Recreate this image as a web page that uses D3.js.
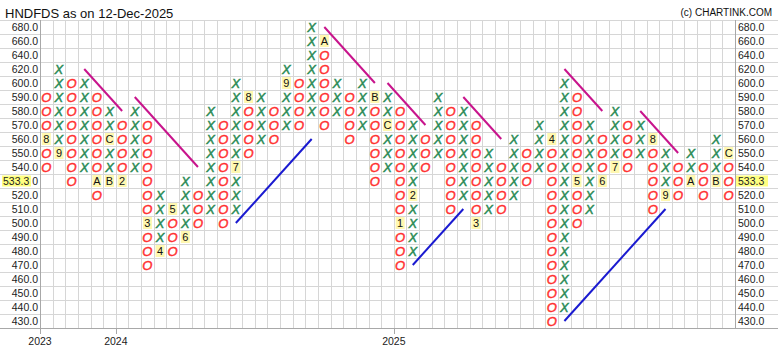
<!DOCTYPE html>
<html><head><meta charset="utf-8">
<script src="https://cdn.jsdelivr.net/npm/d3@7"></script>
<style>
body{margin:0;background:#fff;}
svg{display:block;font-family:"Liberation Sans",Arial,sans-serif;}
</style>
</head><body>
<svg id="chart" width="778" height="358"></svg>
<script>
// ---- data ----
const title = "HNDFDS as on 12-Dec-2025";
const credit = "(c) CHARTINK.COM";
const priceLevels = [680,660,640,620,600,590,580,570,560,550,540,530,520,510,500,490,480,470,460,450,440,430];
const columnTypes = ["O","X","O","X","O","X","O","X","O","X","O","X","O","X","O","X","O","X","O","X","O","X","O","X","O","X","O","X","O","X","O","X","O","X","O","X","O","X","O","X","O","X","O","X","O","X","O","X","O","X","O","X","O","X","O"];
const columnHighs = [590,620,600,600,590,580,570,580,570,520,510,530,520,580,570,600,590,590,580,620,600,680,660,600,590,600,590,590,580,570,560,590,580,580,570,550,540,560,550,570,560,600,590,570,560,580,570,570,560,550,540,550,540,560,550];
const columnLows  = [540,550,530,540,520,530,530,540,470,480,480,490,500,510,500,510,550,560,560,570,570,580,570,580,560,570,530,540,470,480,540,550,510,520,500,510,510,520,530,540,430,440,500,510,530,540,540,550,510,520,520,530,520,530,520];
// [column (1-based), price, month label]
const monthMarkers = [[1,560,"8"],[2,550,"9"],[5,530,"A"],[6,530,"B"],[6,560,"C"],[7,530,"2"],[9,500,"3"],[10,480,"4"],[11,510,"5"],[12,490,"6"],[16,540,"7"],[17,590,"8"],[20,600,"9"],[23,660,"A"],[27,590,"B"],[28,570,"C"],[29,500,"1"],[30,520,"2"],[35,500,"3"],[41,560,"4"],[43,530,"5"],[45,530,"6"],[46,540,"7"],[49,560,"8"],[50,520,"9"],[52,530,"A"],[54,530,"B"],[55,550,"C"]];
// [startColumn, startPrice, endColumn, endPrice]
const resistanceLines = [[4,620,7,580],[8,590,13,540],[23,680,27,600],[28,600,31,570],[34,590,37,560],[42,620,45,580],[48,580,51,550]];
const supportLines = [[16,500,22,560],[30,470,34,510],[42,430,50,510]];
const yearTicks = [[1,"2023"],[7,"2024"],[29,"2025"]];
const lastPrice = 533.3;
const lastPriceRow = 530;

// ---- drawing ----
const W = 778, H = 358;
const svg = d3.select("#chart");
const cols = d3.range(1, columnTypes.length + 1);
const x = d3.scaleBand().domain(cols).range([40, 735]).padding(0);
const y = d3.scaleBand().domain(priceLevels).range([20, 328]).padding(0);
const cx = c => x(c) + x.bandwidth() / 2;
const cy = p => y(p) + y.bandwidth() / 2;
const crisp = v => Math.round(v) + 0.5;

const gridColor = "#d6d6d6";
const hLines = priceLevels.map(p => y(p)).concat([y.range()[1]]);
svg.append("g").selectAll("line").data(hLines).join("line")
  .attr("x1", 0).attr("x2", W)
  .attr("y1", d => crisp(d)).attr("y2", d => crisp(d))
  .attr("stroke", gridColor).attr("stroke-width", 1);
const vLines = cols.map(c => x(c)).concat([x.range()[1]]);
svg.append("g").selectAll("line").data(vLines).join("line")
  .attr("x1", d => crisp(d)).attr("x2", d => crisp(d))
  .attr("y1", 20).attr("y2", 328)
  .attr("stroke", gridColor).attr("stroke-width", 1);

const axisColor = "#a8a8a8";
svg.append("line").attr("x1", crisp(40)).attr("x2", crisp(40)).attr("y1", 20).attr("y2", 329).attr("stroke", axisColor);
svg.append("line").attr("x1", crisp(735)).attr("x2", crisp(735)).attr("y1", 20).attr("y2", 329).attr("stroke", axisColor);
svg.append("line").attr("x1", 0).attr("x2", W).attr("y1", crisp(328)).attr("y2", crisp(328)).attr("stroke", axisColor);

const fmt = d3.format(".1f");
const labelFont = 10.5;
// left labels: the last-price row label is partly covered by the highlight, so only its last digit shows
svg.append("g").selectAll("text").data(priceLevels).join("text")
  .attr("x", 38).attr("y", d => cy(d)).attr("dy", "0.36em")
  .attr("text-anchor", "end").attr("font-size", labelFont).attr("fill", "#222")
  .text(d => d === lastPriceRow ? fmt(d).slice(-1) : fmt(d));
svg.append("g").selectAll("text").data(priceLevels.filter(p => p !== lastPriceRow)).join("text")
  .attr("x", 738).attr("y", d => cy(d)).attr("dy", "0.36em")
  .attr("text-anchor", "start").attr("font-size", labelFont).attr("fill", "#222")
  .text(d => fmt(d));

const lp = svg.append("g");
lp.append("rect").attr("x", 2).attr("y", cy(lastPriceRow) - 5.5).attr("width", 29).attr("height", 11).attr("fill", "#ffff80");
lp.append("text").attr("x", 3).attr("y", cy(lastPriceRow)).attr("dy", "0.36em").attr("font-size", labelFont).attr("fill", "#222").text(fmt(lastPrice));
lp.append("rect").attr("x", 736).attr("y", cy(lastPriceRow) - 5.5).attr("width", 32).attr("height", 11).attr("fill", "#ffff80");
lp.append("text").attr("x", 738).attr("y", cy(lastPriceRow)).attr("dy", "0.36em").attr("font-size", labelFont).attr("fill", "#222").text(fmt(lastPrice));

const yt = svg.append("g");
yt.selectAll("line").data(yearTicks).join("line")
  .attr("x1", d => crisp(x(d[0]))).attr("x2", d => crisp(x(d[0])))
  .attr("y1", 328).attr("y2", 334).attr("stroke", axisColor);
yt.selectAll("text").data(yearTicks).join("text")
  .attr("x", d => x(d[0])).attr("y", 345)
  .attr("text-anchor", "middle").attr("font-size", 10.5).attr("fill", "#222")
  .text(d => d[1]);

const markerKey = new Set(monthMarkers.map(m => m[0] + "_" + m[1]));
const boxes = [];
cols.forEach((c, i) => {
  priceLevels.filter(p => p <= columnHighs[i] && p >= columnLows[i]).forEach(p => {
    if (!markerKey.has(c + "_" + p)) boxes.push({c, p, t: columnTypes[i]});
  });
});
svg.append("g").selectAll("text").data(boxes).join("text")
  .attr("x", d => cx(d.c)).attr("y", d => cy(d.p)).attr("dy", "0.36em")
  .attr("text-anchor", "middle").attr("font-size", 13).attr("font-style", "italic")
  .attr("fill", d => d.t === "X" ? "#2a8a55" : "#ff3030")
  .attr("stroke", d => d.t === "X" ? "#2a8a55" : "#ff3030")
  .attr("stroke-width", 0.45)
  .text(d => d.t);

const mm = svg.append("g").selectAll("g").data(monthMarkers).join("g");
mm.append("rect")
  .attr("x", d => cx(d[0]) - 4.5).attr("y", d => cy(d[1]) - 6)
  .attr("width", 9).attr("height", 12).attr("fill", "#fff8b0");
mm.append("text")
  .attr("x", d => cx(d[0])).attr("y", d => cy(d[1])).attr("dy", "0.36em")
  .attr("text-anchor", "middle").attr("font-size", 11).attr("fill", "#111")
  .text(d => d[2]);

svg.append("g").selectAll("line").data(resistanceLines).join("line")
  .attr("x1", d => cx(d[0])).attr("y1", d => cy(d[1]))
  .attr("x2", d => cx(d[2])).attr("y2", d => cy(d[3]))
  .attr("stroke", "#c8148c").attr("stroke-width", 2);
svg.append("g").selectAll("line").data(supportLines).join("line")
  .attr("x1", d => cx(d[0])).attr("y1", d => cy(d[1]))
  .attr("x2", d => cx(d[2])).attr("y2", d => cy(d[3]))
  .attr("stroke", "#1a1ad0").attr("stroke-width", 2);

svg.append("text").attr("x", 5).attr("y", 18).attr("font-size", 13).attr("fill", "#111").text(title);
svg.append("text").attr("x", 772).attr("y", 15.5).attr("text-anchor", "end").attr("font-size", 10).attr("fill", "#111").text(credit);
</script>
</body></html>
